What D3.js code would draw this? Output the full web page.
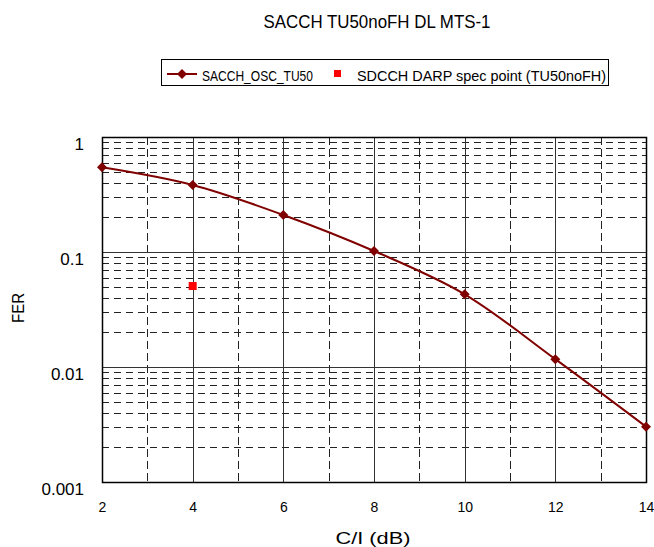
<!DOCTYPE html>
<html>
<head>
<meta charset="utf-8">
<script src="https://cdn.jsdelivr.net/npm/d3@7"></script>
<style>
  body { margin: 0; background: #fff; }
  text { font-family: "Liberation Sans", Arial, sans-serif; fill: #000; }
</style>
</head>
<body>
<div id="chart"></div>
<script>
  // data
  const ciValues = [2, 4, 6, 8, 10, 12, 14];
  const ferValues = [0.546, 0.383, 0.21, 0.102, 0.0429, 0.0117, 0.00303];
  const specCi = [4];
  const specFer = [0.0506];
  const xTicks = [2, 4, 6, 8, 10, 12, 14];
  const yTicks = [1, 0.1, 0.01, 0.001];
  const yTickLabels = ["1", "0.1", "0.01", "0.001"];

  const width = 654, height = 547;
  const plot = { left: 102, right: 646, top: 137, bottom: 482 };

  const svg = d3
    .select("#chart")
    .append("svg")
    .attr("width", width)
    .attr("height", height);

  const x = d3.scaleLinear().domain([2, 14]).range([plot.left, plot.right]);
  const y = d3.scaleLog().domain([0.001, 1]).range([plot.bottom, plot.top]);

  // minor grid values
  const yMinor = [];
  [0.001, 0.01, 0.1].forEach((base) => {
    for (let k = 2; k <= 9; k++) yMinor.push(base * k);
  });
  const xMinor = d3.range(3, 14, 2);

  const grid = svg.append("g");
  grid
    .selectAll(".hminor")
    .data(yMinor)
    .join("line")
    .attr("x1", plot.left)
    .attr("x2", plot.right)
    .attr("y1", (d) => Math.round(y(d)) + 0.5)
    .attr("y2", (d) => Math.round(y(d)) + 0.5)
    .attr("stroke", "#222")
    .attr("stroke-dasharray", "7,5");
  grid
    .selectAll(".vminor")
    .data(xMinor)
    .join("line")
    .attr("x1", (d) => Math.round(x(d)) + 0.5)
    .attr("x2", (d) => Math.round(x(d)) + 0.5)
    .attr("y1", plot.top)
    .attr("y2", plot.bottom)
    .attr("stroke", "#222")
    .attr("stroke-dasharray", "8,4");
  grid
    .selectAll(".hmajor")
    .data(yTicks)
    .join("line")
    .attr("x1", plot.left)
    .attr("x2", plot.right)
    .attr("y1", (d) => Math.round(y(d)) + 0.5)
    .attr("y2", (d) => Math.round(y(d)) + 0.5)
    .attr("stroke", "#333");
  grid
    .selectAll(".vmajor")
    .data(xTicks)
    .join("line")
    .attr("x1", (d) => Math.round(x(d)) + 0.5)
    .attr("x2", (d) => Math.round(x(d)) + 0.5)
    .attr("y1", plot.top)
    .attr("y2", plot.bottom)
    .attr("stroke", "#333");

  // frame
  svg
    .append("rect")
    .attr("x", plot.left + 0.5)
    .attr("y", plot.top + 0.5)
    .attr("width", plot.right - plot.left)
    .attr("height", plot.bottom - plot.top)
    .attr("fill", "none")
    .attr("stroke", "#000")
    .attr("stroke-width", 1.5);

  // axes
  svg
    .append("g")
    .attr("transform", `translate(0, ${plot.bottom})`)
    .call(d3.axisBottom(x).tickValues(xTicks).tickSize(0).tickPadding(20))
    .call((g) => g.select(".domain").remove())
    .selectAll("text")
    .style("font-size", "14px")
    .style("font-family", "Liberation Sans, Arial, sans-serif");

  svg
    .append("g")
    .attr("transform", `translate(${plot.left}, 0)`)
    .call(
      d3
        .axisLeft(y)
        .tickValues(yTicks)
        .tickFormat((d, i) => yTickLabels[i])
        .tickSize(0)
        .tickPadding(18)
    )
    .call((g) => g.select(".domain").remove())
    .selectAll("text")
    .attr("dy", "0.75em")
    .style("font-size", "17px")
    .style("font-family", "Liberation Sans, Arial, sans-serif");

  // series line
  const points = ciValues.map((c, i) => [c, ferValues[i]]);
  const line = d3
    .line()
    .x((d) => x(d[0]))
    .y((d) => y(d[1]))
    .curve(d3.curveCatmullRom.alpha(0.5));

  svg
    .append("path")
    .datum(points)
    .attr("d", line)
    .attr("fill", "none")
    .attr("stroke", "#800000")
    .attr("stroke-width", 2);

  const diamond = (r) => `M0,${-r}L${r},0L0,${r}L${-r},0Z`;
  svg
    .selectAll(".marker")
    .data(points)
    .join("path")
    .attr("transform", (d) => `translate(${x(d[0])}, ${y(d[1])})`)
    .attr("d", diamond(5))
    .attr("fill", "#800000");

  svg
    .selectAll(".spec")
    .data(specCi.map((c, i) => [c, specFer[i]]))
    .join("rect")
    .attr("x", (d) => x(d[0]) - 4)
    .attr("y", (d) => y(d[1]) - 4)
    .attr("width", 8)
    .attr("height", 8)
    .attr("fill", "#ff0000");

  // title
  svg
    .append("text")
    .attr("x", 377)
    .attr("y", 28)
    .attr("text-anchor", "middle")
    .attr("textLength", 227)
    .attr("lengthAdjust", "spacingAndGlyphs")
    .style("font-size", "18px")
    .text("SACCH TU50noFH DL MTS-1");

  // legend
  const legend = svg.append("g");
  legend
    .append("rect")
    .attr("x", 161.5)
    .attr("y", 59.5)
    .attr("width", 447)
    .attr("height", 26)
    .attr("fill", "#fff")
    .attr("stroke", "#000");
  legend
    .append("line")
    .attr("x1", 167)
    .attr("x2", 197)
    .attr("y1", 74)
    .attr("y2", 74)
    .attr("stroke", "#800000")
    .attr("stroke-width", 2);
  legend
    .append("path")
    .attr("transform", "translate(182, 74)")
    .attr("d", diamond(5))
    .attr("fill", "#800000");
  legend
    .append("text")
    .attr("x", 202)
    .attr("y", 81)
    .attr("textLength", 111)
    .attr("lengthAdjust", "spacingAndGlyphs")
    .style("font-size", "14px")
    .text("SACCH_OSC_TU50");
  legend
    .append("rect")
    .attr("x", 334)
    .attr("y", 70)
    .attr("width", 7)
    .attr("height", 7)
    .attr("fill", "#ff0000");
  legend
    .append("text")
    .attr("x", 357)
    .attr("y", 81)
    .attr("textLength", 249)
    .attr("lengthAdjust", "spacingAndGlyphs")
    .style("font-size", "14px")
    .text("SDCCH DARP spec point (TU50noFH)");

  // axis titles
  svg
    .append("text")
    .attr("x", 373)
    .attr("y", 544)
    .attr("text-anchor", "middle")
    .attr("textLength", 75)
    .attr("lengthAdjust", "spacingAndGlyphs")
    .style("font-size", "17px")
    .text("C/I  (dB)");

  svg
    .append("text")
    .attr("transform", "translate(24, 308) rotate(-90)")
    .attr("text-anchor", "middle")
    .attr("textLength", 30)
    .attr("lengthAdjust", "spacingAndGlyphs")
    .style("font-size", "17px")
    .text("FER");
</script>
</body>
</html>
